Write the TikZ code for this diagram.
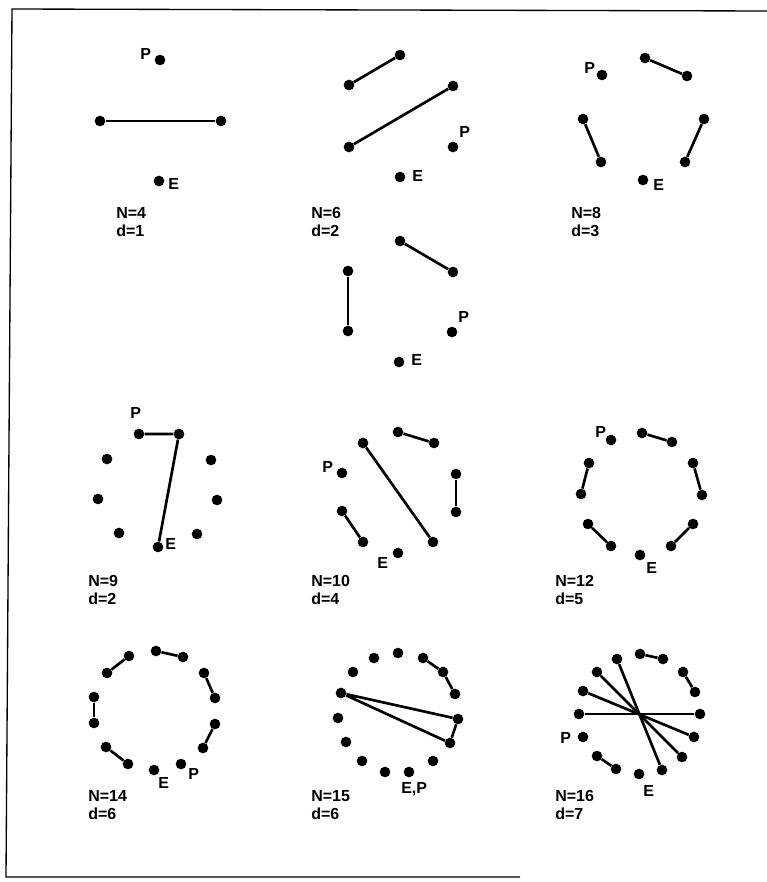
\documentclass[tikz,border=0pt]{standalone}
\usepackage{fontspec}
\setmainfont{Liberation Sans}
\usetikzlibrary{positioning}

\tikzset{
  dot/.style={circle, fill=black, inner sep=0pt, minimum size=8pt},
  bond/.style={line width=2pt},
  lbl/.style={anchor=base west, inner sep=0pt, font=\fontsize{12}{14}\selectfont\bfseries},
}

\begin{document}
\begin{tikzpicture}[x=0.75pt, y=-0.75pt]
  \useasboundingbox (0,0) rectangle (767,882);
  % Frame
  \draw[line width=1pt] (520,877) -- (6,877) -- (12,9) -- (767,11);

  % N=4, d=1
  \foreach \n/\x/\y in {a1/160/60, a2/100/121, a3/221/121, a4/159/181}
    \node[dot] (\n) at (\x,\y) {};
  \draw[bond] (a2) -- (a3);
  \node[lbl] (aP) at (140,59) {P};
  \node[lbl] (aE) at (168,189) {E};
  \node[lbl] (aN) at (116,218) {N=4};
  \node[lbl] (ad) at (116,236) {d=1};

  % N=6, d=2 (first)
  \foreach \n/\x/\y in {b1/400/55, b2/349/85, b3/453/86, b4/349/147, b5/453/147, b6/400/177}
    \node[dot] (\n) at (\x,\y) {};
  \draw[bond] (b1) -- (b2);
  \draw[bond] (b3) -- (b4);
  \node[lbl] (bP) at (459,137) {P};
  \node[lbl] (bE) at (412,181) {E};
  \node[lbl] (bN) at (311,218) {N=6};
  \node[lbl] (bd) at (311,236) {d=2};

  % N=6, d=2 (second)
  \foreach \n/\x/\y in {c1/400/241, c2/348/271, c3/453/272, c4/348/331, c5/452/332, c6/399/362}
    \node[dot] (\n) at (\x,\y) {};
  \draw[bond] (c1) -- (c3);
  \draw[bond] (c2) -- (c4);
  \node[lbl] (cP) at (458,322) {P};
  \node[lbl] (cE) at (411,365) {E};

  % N=8, d=3
  \foreach \n/\x/\y in {e1/602/75, e2/645/58, e3/687/76, e4/583/119, e5/704/119, e6/601/162, e7/685/162, e8/643/180}
    \node[dot] (\n) at (\x,\y) {};
  \draw[bond] (e2) -- (e3);
  \draw[bond] (e4) -- (e6);
  \draw[bond] (e5) -- (e7);
  \node[lbl] (eP) at (584,73) {P};
  \node[lbl] (eE) at (653,190) {E};
  \node[lbl] (eN) at (571,218) {N=8};
  \node[lbl] (ed) at (571,236) {d=3};

  % N=9, d=2
  \foreach \n/\x/\y in {f1/139/434, f2/179/434, f3/107/459, f4/211/460, f5/98/499, f6/217/500, f7/119/533, f8/197/534, f9/158/547}
    \node[dot] (\n) at (\x,\y) {};
  \draw[bond] (f1) -- (f2) -- (f9);
  \node[lbl] (fP) at (130,418) {P};
  \node[lbl] (fE) at (165,549) {E};
  \node[lbl] (fN) at (88,586) {N=9};
  \node[lbl] (fd) at (88,604) {d=2};

  % N=10, d=4
  \foreach \n/\x/\y in {g1/398/432, g2/434/443, g3/363/443, g4/342/473, g5/456/474, g6/456/512, g7/342/511, g8/363/542, g9/433/542, g10/398/553}
    \node[dot] (\n) at (\x,\y) {};
  \draw[bond] (g1) -- (g2);
  \draw[bond] (g3) -- (g9);
  \draw[bond] (g5) -- (g6);
  \draw[bond] (g7) -- (g8);
  \node[lbl] (gP) at (322,472) {P};
  \node[lbl] (gE) at (377,568) {E};
  \node[lbl] (gN) at (311,586) {N=10};
  \node[lbl] (gd) at (311,604) {d=4};

  % N=12, d=5
  \foreach \n/\x/\y in {h1/611/440, h2/642/433, h3/672/442, h4/589/463, h5/693/463, h6/581/494, h7/702/495, h8/588/524, h9/693/524, h10/611/546, h11/671/546, h12/640/555}
    \node[dot] (\n) at (\x,\y) {};
  \draw[bond] (h2) -- (h3);
  \draw[bond] (h4) -- (h6);
  \draw[bond] (h5) -- (h7);
  \draw[bond] (h8) -- (h10);
  \draw[bond] (h9) -- (h11);
  \node[lbl] (hP) at (595,437) {P};
  \node[lbl] (hE) at (646,573) {E};
  \node[lbl] (hN) at (555,586) {N=12};
  \node[lbl] (hd) at (555,604) {d=5};

  % N=14, d=6
  \foreach \n/\x/\y in {i1/156/651, i2/183/657, i3/129/656, i4/107/673, i5/204/673, i6/215/698, i7/94/697, i8/94/723, i9/215/724, i10/106/747, i11/203/748, i12/128/764, i13/154/770, i14/181/764}
    \node[dot] (\n) at (\x,\y) {};
  \draw[bond] (i1) -- (i2);
  \draw[bond] (i3) -- (i4);
  \draw[bond] (i5) -- (i6);
  \draw[bond] (i7) -- (i8);
  \draw[bond] (i9) -- (i11);
  \draw[bond] (i10) -- (i12);
  \node[lbl] (iE) at (158,788) {E};
  \node[lbl] (iP) at (188,779) {P};
  \node[lbl] (iN) at (88,801) {N=14};
  \node[lbl] (id) at (88,819) {d=6};

  % N=15, d=6
  \foreach \n/\x/\y in {j1/398/653, j2/374/658, j3/423/658, j4/353/672, j5/443/672, j6/341/693, j7/455/694, j8/338/718, j9/458/719, j10/346/742, j11/450/743, j12/362/761, j13/433/761, j14/385/772, j15/409/772}
    \node[dot] (\n) at (\x,\y) {};
  \draw[bond] (j3) -- (j5) -- (j7);
  \draw[bond] (j6) -- (j9) -- (j11) -- (j6);
  \node[lbl] (jEP) at (401,793) {E,P};
  \node[lbl] (jN) at (311,801) {N=15};
  \node[lbl] (jd) at (311,819) {d=6};

  % N=16, d=7
  \foreach \n/\x/\y in {k1/640/654, k2/663/659, k3/617/659, k4/683/672, k5/597/672, k6/583/691, k7/695/692, k8/579/714, k9/700/714, k10/583/737, k11/694/737, k12/597/756, k13/682/757, k14/616/769, k15/662/770, k16/639/774}
    \node[dot] (\n) at (\x,\y) {};
  \draw[bond] (k1) -- (k2);
  \draw[bond] (k4) -- (k7);
  \draw[bond] (k12) -- (k14);
  \draw[bond] (k8) -- (k9);
  \draw[bond] (k6) -- (k11);
  \draw[bond] (k5) -- (k13);
  \draw[bond] (k3) -- (k15);
  \node[lbl] (kP) at (560,743) {P};
  \node[lbl] (kE) at (643,796) {E};
  \node[lbl] (kN) at (555,801) {N=16};
  \node[lbl] (kd) at (555,819) {d=7};
\end{tikzpicture}
\end{document}
